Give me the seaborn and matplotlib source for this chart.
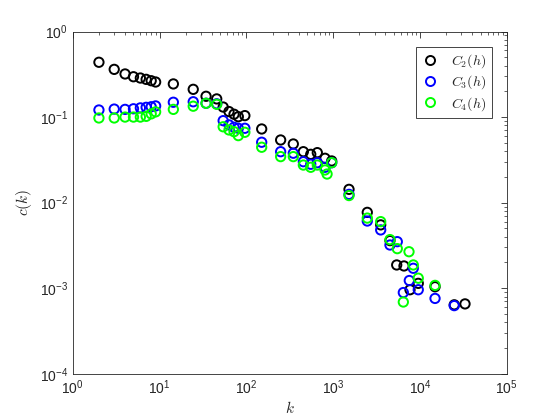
import numpy as np
import pandas as pd
import matplotlib
matplotlib.use("Agg")
import matplotlib.pyplot as plt
import seaborn as sns

# values (log-log)
k_c2 = [2, 3, 4, 5, 6, 7, 8, 9,
        14.4, 24.4, 34.3, 45.5, 54, 63, 72, 80.7, 96,
        150, 248, 347, 453, 551, 656, 805, 961,
        1521, 2470, 3525, 4510, 5390, 6540, 7670, 9550, 14900, 24800, 33000]
c2 = [0.437, 0.361, 0.319, 0.296, 0.286, 0.276, 0.266, 0.257,
      0.244, 0.211, 0.175, 0.163, 0.131, 0.116, 0.108, 0.101, 0.104,
      0.0726, 0.054, 0.0485, 0.0394, 0.0367, 0.0384, 0.033, 0.0307,
      0.0143, 0.0077, 0.0055, 0.0036, 0.00187, 0.00182, 0.00096, 0.00114, 0.00104, 0.00064, 0.000656]

k_c3 = [2, 3, 4, 5, 6, 7, 8, 9,
        14.4, 24.4, 34.3, 45.5, 54, 63, 72, 80.7, 96,
        150, 248, 347, 453, 551, 656, 805, 961,
        1521, 2470, 3525, 4510, 5475, 6425, 7530, 8370, 9550, 14900, 24800]
c3 = [0.121, 0.124, 0.123, 0.125, 0.128, 0.130, 0.132, 0.135,
      0.149, 0.151, 0.145, 0.143, 0.0908, 0.081, 0.076, 0.074, 0.074,
      0.0508, 0.0394, 0.0378, 0.0301, 0.0281, 0.0293, 0.0259, 0.0293,
      0.0125, 0.0061, 0.0048, 0.0032, 0.0035, 0.00089, 0.00123, 0.00171, 0.00096, 0.00076, 0.000626]

k_c4 = [2, 3, 4, 5, 6, 7, 8, 9,
        14.4, 24.4, 34.3, 45.5, 54, 63, 72, 80.7, 96,
        150, 248, 347, 453, 551, 656, 805, 850, 961,
        1521, 2470, 3525, 4510, 5475, 6425, 7470, 8370, 9550, 14900]
c4 = [0.0976, 0.0976, 0.100, 0.100, 0.100, 0.102, 0.109, 0.115,
      0.123, 0.134, 0.145, 0.141, 0.077, 0.0707, 0.0675, 0.0607, 0.0664,
      0.0444, 0.0345, 0.0345, 0.0275, 0.0259, 0.0275, 0.0241, 0.0216, 0.0293,
      0.0121, 0.0066, 0.0060, 0.0037, 0.0029, 0.00069, 0.00267, 0.00187, 0.00131, 0.00108]

labels = [r"$C_2(h)$", r"$C_3(h)$", r"$C_4(h)$"]
colors = ["#000000", "#0000ff", "#00ff00"]

sns.set_style("white")
plt.rcParams["font.family"] = ["Liberation Sans", "DejaVu Sans"]
plt.rcParams["mathtext.fontset"] = "cm"

fig = plt.figure(figsize=(5.6, 4.2), dpi=100)
ax = fig.add_axes([0.13, 0.11, 0.775, 0.815])

for kk, cc, lab, col in zip([k_c2, k_c3, k_c4], [c2, c3, c4], labels, colors):
    df = pd.DataFrame({"k": kk, "c": cc})
    sns.scatterplot(data=df, x="k", y="c", ax=ax, marker="o", s=45,
                    facecolor="none", edgecolor=col, color=col,
                    linewidth=1.4, label=lab, legend=False)

ax.set_xscale("log")
ax.set_yscale("log")
ax.set_xlim(1, 1e5)
ax.set_ylim(1e-4, 1)

ax.set_xlabel(r"$k$", fontsize=11, color="#262626", labelpad=2)
ax.set_ylabel(r"$c(k)$", fontsize=11, color="#262626", labelpad=4)

ax.tick_params(which="both", direction="in", top=True, right=True,
               colors="#262626", labelsize=10)
ax.tick_params(which="major", length=4, width=0.6)
ax.tick_params(which="minor", length=2.2, width=0.5)
ax.xaxis.set_minor_locator(matplotlib.ticker.LogLocator(base=10, subs=np.arange(2, 10), numticks=20))
ax.yaxis.set_minor_locator(matplotlib.ticker.LogLocator(base=10, subs=np.arange(2, 10), numticks=20))
for sp in ax.spines.values():
    sp.set_color("#262626")
    sp.set_linewidth(0.6)

handles = [plt.Line2D([], [], marker="o", linestyle="none", markersize=6.5,
                      markerfacecolor="none", markeredgecolor=c, markeredgewidth=1.4)
           for c in colors]
leg = ax.legend(handles, labels, loc="upper right", fontsize=10, frameon=True,
                fancybox=False, framealpha=1, edgecolor="#262626",
                handlelength=1.2, handletextpad=0.9, borderpad=0.4,
                borderaxespad=1.1, labelspacing=0.25)
leg.get_frame().set_linewidth(0.6)
for t in leg.get_texts():
    t.set_color("#262626")

fig.savefig("out.png", dpi=100)
